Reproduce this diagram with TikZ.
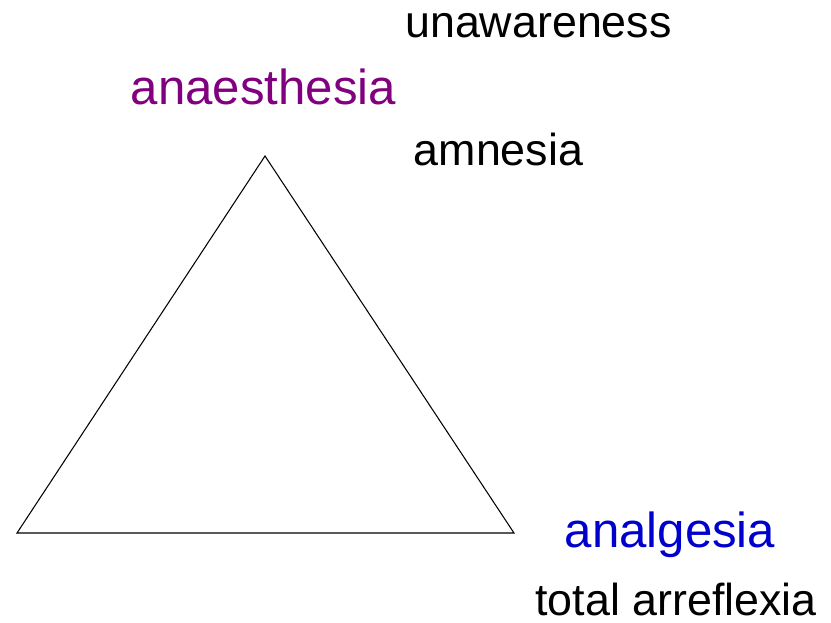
\documentclass[tikz,border=0pt]{standalone}
\usepackage{fontspec}
\setmainfont{Liberation Sans}
\usepackage{tikz}
\usetikzlibrary{positioning}
\definecolor{anpurple}{RGB}{128,0,128}
\definecolor{anblue}{RGB}{0,0,204}

\begin{document}
\begin{tikzpicture}[x=0.02cm, y=-0.02cm]
\tikzstyle{lbl}=[inner sep=0pt, anchor=base, font=\fontsize{25.5}{30}\selectfont]
\tikzstyle{big}=[inner sep=0pt, anchor=base, font=\fontsize{28}{33}\selectfont]
\useasboundingbox (0,0) rectangle (831,622);
\coordinate (apex) at (265,156);
\coordinate (bl) at (17,533);
\coordinate (br) at (514,533);
\draw[line width=0.6pt, line join=miter] (apex) -- (bl) -- (br) -- cycle;
\node[big, text=anpurple] (anaes) at (263.5,104) {anaesthesia};
\node[big, text=anblue] (analg) at (670,547) {analgesia};
\node[lbl] (unaw) at (538.5,37) {unawareness};
\node[lbl] (amnes) at (498.5,165) {amnesia};
\node[lbl] (arref) at (676,615) {total arreflexia};
\end{tikzpicture}
\end{document}
